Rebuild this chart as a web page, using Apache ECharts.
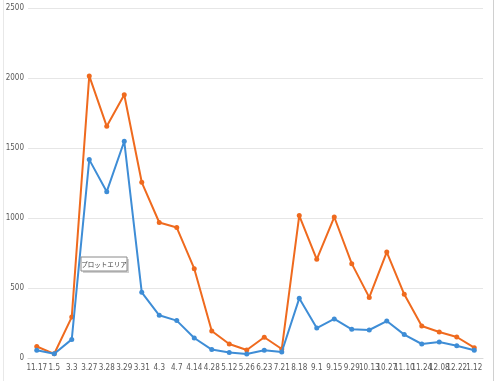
<!DOCTYPE html>
<html><head><meta charset="utf-8">
<script src="https://cdn.jsdelivr.net/npm/echarts@6/dist/echarts.min.js"></script>
<style>html,body{margin:0;padding:0;background:#fff}#c{width:497px;height:381px}</style>
</head><body><div id="c"></div>
<script>
const categories = ['11.17','1.5','3.3','3.27','3.28','3.29','3.31','4.3','4.7','4.14','4.28','5.12','5.26','6.23','7.21','8.18','9.1','9.15','9.29','10.13','10.27','11.10','11.24','12.08','12.22','1.12'];
const orangeValues = [82,30,292,2015,1655,1880,1255,968,932,638,193,100,57,148,64,1017,705,1007,674,433,757,455,229,186,150,74];
const blueValues = [55,30,133,1417,1188,1548,469,305,267,143,60,40,29,55,43,426,214,279,205,200,264,167,100,114,88,55];
const yTicks = [0,500,1000,1500,2000,2500];

const labelFont = '"Liberation Sans Narrow", "DejaVu Sans Condensed", sans-serif';
const chart = echarts.init(document.getElementById('c'));
chart.setOption({
  animation:false,
  grid:{left:28,right:14,top:8,bottom:23},
  xAxis:{type:'category',data:categories,boundaryGap:true,
    axisLine:{lineStyle:{color:'#d9d9d9'}},axisTick:{show:false},
    axisLabel:{color:'#595959',fontSize:8,fontFamily:labelFont,interval:0,margin:6,hideOverlap:false}},
  yAxis:{type:'value',min:yTicks[0],max:yTicks[yTicks.length-1],interval:500,
    axisLine:{show:false},axisTick:{show:false},
    splitLine:{lineStyle:{color:'#e6e6e6',width:1}},
    axisLabel:{color:'#595959',fontSize:8,fontFamily:labelFont,margin:4,formatter:function(v){return String(v);}}},
  series:[
    {type:'line',data:orangeValues,symbol:'circle',symbolSize:5,
      lineStyle:{color:'#EF6A1E',width:2},itemStyle:{color:'#EF6A1E'},z:2},
    {type:'line',data:blueValues,symbol:'circle',symbolSize:5,
      lineStyle:{color:'#3E8DD6',width:2},itemStyle:{color:'#3E8DD6'},z:3}
  ],
  graphic:[
    {type:'rect',shape:{x:83,y:259,width:46,height:14},style:{fill:'#cfcfcf'},z:10},
    {type:'rect',shape:{x:81,y:257,width:46,height:14},style:{fill:'#ffffff',stroke:'#8a8a8a',lineWidth:1},z:11},
    {type:'text',x:104,y:264.5,style:{text:'プロットエリア',fontSize:6.5,fill:'#404040',align:'center',verticalAlign:'middle',fontFamily:'Noto Sans CJK JP'},z:12},
    {type:'line',shape:{x1:493.5,y1:0,x2:493.5,y2:381},style:{stroke:'#d0d0d0',lineWidth:1},z:5},
    {type:'line',shape:{x1:3.5,y1:0,x2:3.5,y2:381},style:{stroke:'#e8e8e8',lineWidth:1},z:5}
  ]
});
</script></body></html>
